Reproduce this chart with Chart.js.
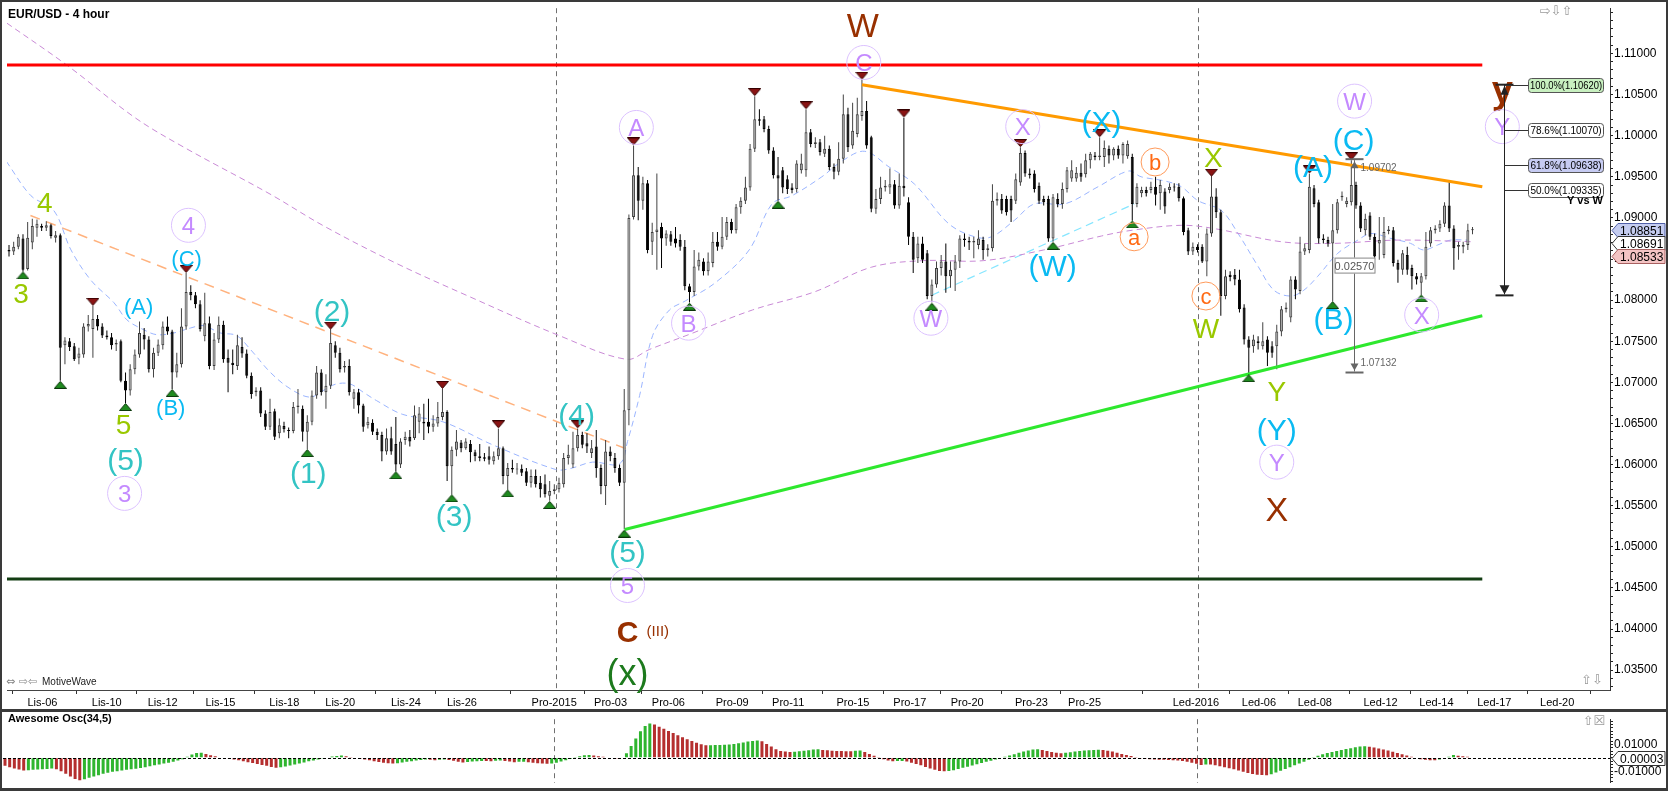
<!DOCTYPE html>
<html><head><meta charset="utf-8">
<script src="https://cdn.jsdelivr.net/npm/chart.js@4.4.0/dist/chart.umd.min.js"></script>
<style>
html,body{margin:0;padding:0;background:#fff;}
#wrap{position:relative;width:1668px;height:791px;overflow:hidden;background:#fff;}
canvas{position:absolute;left:0;}
#main{top:0;}
#osc{top:711px;}
</style></head><body>
<div id="wrap"><canvas id="main" width="1668" height="712"></canvas><canvas id="osc" width="1668" height="80"></canvas></div>
<script>
// ---------- DATA (EUR/USD 4h candles, bar index 0..314) ----------
const opens = [
1.0861,1.0859,1.0865,1.0875,1.0838,1.0870,1.0888,1.0890,1.0888,1.0891,
1.0876,1.0879,1.0745,1.0750,1.0744,1.0730,1.0734,1.0768,1.0765,1.0777,
1.0768,1.0757,1.0755,1.0746,1.0750,1.0702,1.0690,1.0716,1.0734,1.0758,
1.0752,1.0716,1.0736,1.0745,1.0768,1.0762,1.0712,1.0722,1.0768,1.0810,
1.0806,1.0795,1.0756,1.0772,1.0720,1.0752,1.0770,1.0730,1.0724,1.0720,
1.0743,1.0735,1.0708,1.0688,1.0690,1.0662,1.0646,1.0665,1.0638,1.0647,
1.0642,1.0641,1.0670,1.0668,1.0640,1.0652,1.0684,1.0712,1.0688,1.0696,
1.0745,1.0736,1.0718,1.0720,1.0680,1.0688,1.0672,1.0648,1.0651,1.0640,
1.0636,1.0616,1.0632,1.0625,1.0600,1.0630,1.0634,1.0632,1.0652,1.0652,
1.0652,1.0646,1.0650,1.0658,1.0664,1.0598,1.0618,1.0627,1.0620,1.0625,
1.0615,1.0610,1.0609,1.0610,1.0604,1.0610,1.0620,1.0586,1.0596,1.0594,
1.0595,1.0592,1.0578,1.0586,1.0578,1.0576,1.0562,1.0568,1.0570,1.0576,
1.0608,1.0600,1.0620,1.0636,1.0626,1.0614,1.0622,1.0596,1.0574,1.0616,
1.0608,1.0596,1.0578,1.0666,1.0901,1.0952,1.0921,1.0942,1.0871,1.0883,
1.0889,1.0875,1.0880,1.0875,1.0873,1.0865,1.0817,1.0810,1.0841,1.0847,
1.0835,1.0845,1.0871,1.0865,1.0877,1.0895,1.0885,1.0913,1.0921,1.0937,
1.0984,1.1020,1.1020,1.1008,1.0982,1.0952,1.0958,1.0947,1.0937,1.0935,
1.0958,1.0958,1.1004,1.0990,1.0992,1.0978,1.0984,1.0962,1.0956,1.0972,
1.1026,1.0988,1.1002,1.1024,1.1030,1.0998,1.0911,1.0923,1.0937,1.0937,
1.0941,1.0915,1.0939,1.0919,1.0877,1.0851,1.0869,1.0857,1.0805,1.0819,
1.0839,1.0847,1.0829,1.0837,1.0847,1.0875,1.0872,1.0870,1.0867,1.0873,
1.0861,1.0863,1.0921,1.0923,1.0923,1.0923,1.0921,1.0943,1.0979,1.0954,
1.0954,1.0939,1.0923,1.0923,1.0875,1.0923,1.0917,1.0935,1.0948,1.0948,
1.0955,1.0953,1.0970,1.0976,1.0974,1.0974,1.0984,1.0976,1.0984,1.0976,
1.0975,1.0974,1.0917,1.0930,1.0934,1.0934,1.0938,1.0930,1.0932,1.0934,
1.0938,1.0938,1.0924,1.0885,1.0859,1.0865,1.0865,1.0847,1.0881,1.0926,
1.0907,1.0805,1.0831,1.0831,1.0825,1.0791,1.0752,1.0744,1.0750,1.0744,
1.0752,1.0744,1.0744,1.0762,1.0789,1.0779,1.0825,1.0811,1.0859,1.0861,
1.0936,1.0919,1.0875,1.0873,1.0869,1.0885,1.0925,1.0917,1.0919,1.0940,
1.0915,1.0885,1.0903,1.0877,1.0869,1.0855,1.0884,1.0885,1.0845,1.0837,
1.0855,1.0839,1.0829,1.0821,1.0829,1.0869,1.0885,1.0887,1.0893,1.0915,
1.0887,1.0865,1.0865,1.0867,1.0885];
const highs = [
1.0867,1.0871,1.0880,1.0880,1.0895,1.0899,1.0898,1.0893,1.0896,1.0893,
1.0884,1.0881,1.0755,1.0754,1.0748,1.0742,1.0772,1.0782,1.0793,1.0782,
1.0772,1.0763,1.0760,1.0752,1.0752,1.0712,1.0722,1.0740,1.0774,1.0766,
1.0756,1.0742,1.0752,1.0774,1.0780,1.0764,1.0736,1.0790,1.0833,1.0818,
1.0810,1.0800,1.0809,1.0780,1.0760,1.0780,1.0775,1.0740,1.0740,1.0758,
1.0755,1.0740,1.0712,1.0694,1.0694,1.0666,1.0680,1.0668,1.0656,1.0652,
1.0645,1.0676,1.0692,1.0672,1.0660,1.0690,1.0720,1.0716,1.0710,1.0764,
1.0750,1.0742,1.0726,1.0728,1.0692,1.0692,1.0674,1.0658,1.0655,1.0644,
1.0640,1.0644,1.0646,1.0658,1.0632,1.0640,1.0642,1.0672,1.0670,1.0674,
1.0680,1.0660,1.0676,1.0692,1.0666,1.0622,1.0642,1.0630,1.0632,1.0630,
1.0618,1.0625,1.0614,1.0622,1.0616,1.0644,1.0622,1.0602,1.0606,1.0602,
1.0600,1.0596,1.0594,1.0594,1.0586,1.0588,1.0580,1.0576,1.0584,1.0614,
1.0624,1.0640,1.0644,1.0640,1.0638,1.0630,1.0642,1.0600,1.0630,1.0622,
1.0614,1.0600,1.0692,1.0904,1.0988,1.0962,1.0950,1.0946,1.0894,1.0954,
1.0894,1.0885,1.0884,1.0889,1.0880,1.0873,1.0820,1.0861,1.0858,1.0851,
1.0858,1.0883,1.0883,1.0901,1.0901,1.0899,1.0917,1.0925,1.0950,1.0990,
1.1048,1.1032,1.1024,1.1012,1.0986,1.0974,1.0962,1.0952,1.0942,1.0970,
1.0978,1.1032,1.1008,1.0998,1.0996,1.1000,1.0988,1.0966,1.0992,1.1050,
1.1034,1.1040,1.1046,1.1068,1.1042,1.1000,1.0935,1.0950,1.0946,1.0960,
1.0946,1.0954,1.1022,1.0925,1.0883,1.0877,1.0877,1.0861,1.0825,1.0847,
1.0855,1.0869,1.0847,1.0855,1.0879,1.0881,1.0877,1.0877,1.0885,1.0877,
1.0868,1.0941,1.0931,1.0929,1.0927,1.0927,1.0954,1.0986,1.0982,1.0960,
1.0958,1.0943,1.0927,1.0927,1.0929,1.0930,1.0943,1.0962,1.0970,1.0962,
1.0966,1.0978,1.0980,1.0980,1.0998,1.0994,1.0988,1.0986,1.0988,1.0992,
1.0994,1.0978,1.0942,1.0938,1.0938,1.0944,1.0950,1.0946,1.0936,1.0942,
1.0942,1.0942,1.0926,1.0888,1.0870,1.0868,1.0868,1.0887,1.0950,1.0936,
1.0910,1.0837,1.0835,1.0838,1.0837,1.0795,1.0756,1.0758,1.0756,1.0773,
1.0756,1.0750,1.0770,1.0793,1.0797,1.0829,1.0829,1.0877,1.0869,1.0954,
1.0940,1.0922,1.0880,1.0877,1.0917,1.0923,1.0932,1.0925,1.0970,1.0944,
1.0919,1.0905,1.0907,1.0881,1.0901,1.0901,1.0890,1.0889,1.0849,1.0861,
1.0865,1.0843,1.0833,1.0833,1.0883,1.0889,1.0891,1.0897,1.0919,1.0944,
1.0891,1.0871,1.0871,1.0893,1.0889];
const lows = [
1.0853,1.0855,1.0862,1.0835,1.0836,1.0862,1.0877,1.0884,1.0884,1.0875,
1.0870,1.0702,1.0722,1.0738,1.0726,1.0722,1.0730,1.0762,1.0730,1.0763,
1.0754,1.0752,1.0740,1.0738,1.0700,1.0675,1.0684,1.0710,1.0730,1.0740,
1.0712,1.0706,1.0732,1.0740,1.0758,1.0692,1.0706,1.0718,1.0764,1.0800,
1.0790,1.0762,1.0750,1.0716,1.0715,1.0748,1.0724,1.0688,1.0710,1.0715,
1.0730,1.0705,1.0680,1.0683,1.0658,1.0642,1.0642,1.0630,1.0632,1.0639,
1.0632,1.0638,1.0662,1.0628,1.0619,1.0648,1.0680,1.0684,1.0668,1.0692,
1.0730,1.0712,1.0712,1.0684,1.0668,1.0662,1.0640,1.0644,1.0636,1.0630,
1.0604,1.0612,1.0612,1.0592,1.0596,1.0624,1.0622,1.0630,1.0638,1.0630,
1.0638,1.0640,1.0646,1.0654,1.0580,1.0564,1.0610,1.0615,1.0618,1.0603,
1.0604,1.0604,1.0604,1.0600,1.0600,1.0606,1.0576,1.0570,1.0590,1.0588,
1.0586,1.0574,1.0572,1.0572,1.0560,1.0560,1.0556,1.0564,1.0566,1.0572,
1.0600,1.0596,1.0616,1.0620,1.0614,1.0608,1.0584,1.0564,1.0551,1.0604,
1.0590,1.0574,1.0521,1.0648,1.0898,1.0897,1.0910,1.0857,1.0855,1.0837,
1.0839,1.0866,1.0866,1.0864,1.0860,1.0812,1.0797,1.0805,1.0836,1.0830,
1.0830,1.0840,1.0860,1.0862,1.0873,1.0881,1.0881,1.0905,1.0917,1.0933,
1.0980,1.1012,1.1004,1.0978,1.0948,1.0921,1.0930,1.0929,1.0930,1.0931,
1.0954,1.0950,1.0986,1.0985,1.0976,1.0974,1.0958,1.0947,1.0952,1.0966,
1.0980,1.0984,1.0998,1.1018,1.0984,1.0907,1.0905,1.0917,1.0932,1.0929,
1.0911,1.0911,1.0926,1.0867,1.0833,1.0845,1.0845,1.0801,1.0797,1.0815,
1.0830,1.0809,1.0815,1.0811,1.0839,1.0865,1.0861,1.0851,1.0862,1.0849,
1.0853,1.0859,1.0915,1.0905,1.0903,1.0895,1.0917,1.0939,1.0950,1.0948,
1.0931,1.0917,1.0915,1.0871,1.0871,1.0913,1.0911,1.0931,1.0944,1.0944,
1.0944,1.0949,1.0960,1.0970,1.0970,1.0962,1.0966,1.0970,1.0972,1.0966,
1.0972,1.0897,1.0913,1.0925,1.0926,1.0930,1.0915,1.0910,1.0905,1.0930,
1.0932,1.0920,1.0879,1.0855,1.0855,1.0858,1.0845,1.0829,1.0877,1.0900,
1.0781,1.0801,1.0823,1.0818,1.0785,1.0746,1.0710,1.0736,1.0740,1.0740,
1.0720,1.0730,1.0716,1.0756,1.0785,1.0773,1.0801,1.0807,1.0855,1.0857,
1.0913,1.0869,1.0869,1.0865,1.0799,1.0881,1.0921,1.0913,1.0915,1.0911,
1.0883,1.0879,1.0873,1.0849,1.0849,1.0851,1.0880,1.0841,1.0821,1.0831,
1.0831,1.0813,1.0819,1.0807,1.0825,1.0865,1.0881,1.0883,1.0889,1.0883,
1.0837,1.0849,1.0857,1.0861,1.0880];
const closes = [
1.0859,1.0865,1.0877,1.0837,1.0876,1.0890,1.0893,1.0888,1.0891,1.0878,
1.0879,1.0742,1.0751,1.0743,1.0728,1.0735,1.0768,1.0771,1.0777,1.0768,
1.0757,1.0755,1.0745,1.0748,1.0702,1.0690,1.0716,1.0734,1.0760,1.0752,
1.0716,1.0736,1.0746,1.0768,1.0762,1.0712,1.0722,1.0768,1.0810,1.0806,
1.0795,1.0765,1.0772,1.0720,1.0752,1.0770,1.0728,1.0724,1.0721,1.0745,
1.0735,1.0708,1.0686,1.0690,1.0662,1.0646,1.0664,1.0634,1.0648,1.0643,
1.0641,1.0670,1.0672,1.0640,1.0652,1.0684,1.0712,1.0688,1.0696,1.0748,
1.0736,1.0716,1.0720,1.0688,1.0688,1.0672,1.0646,1.0652,1.0640,1.0636,
1.0616,1.0632,1.0616,1.0600,1.0628,1.0634,1.0628,1.0660,1.0662,1.0650,
1.0646,1.0650,1.0658,1.0664,1.0598,1.0618,1.0628,1.0620,1.0628,1.0615,
1.0610,1.0608,1.0607,1.0606,1.0610,1.0620,1.0586,1.0596,1.0594,1.0595,
1.0590,1.0578,1.0586,1.0576,1.0570,1.0564,1.0568,1.0570,1.0578,1.0608,
1.0612,1.0620,1.0636,1.0624,1.0622,1.0620,1.0596,1.0574,1.0616,1.0610,
1.0596,1.0578,1.0666,1.0900,1.0952,1.0921,1.0942,1.0861,1.0883,1.0886,
1.0875,1.0881,1.0871,1.0869,1.0865,1.0817,1.0810,1.0841,1.0849,1.0835,
1.0847,1.0871,1.0865,1.0877,1.0895,1.0885,1.0913,1.0921,1.0937,1.0984,
1.1020,1.1018,1.1008,1.0982,1.0952,1.0948,1.0937,1.0935,1.0934,1.0966,
1.0966,1.1004,1.0990,1.0992,1.0980,1.0984,1.0962,1.0956,1.0972,1.1026,
1.0986,1.1006,1.1026,1.1030,1.0988,1.0911,1.0923,1.0937,1.0939,1.0941,
1.0915,1.0939,1.0936,1.0877,1.0849,1.0869,1.0849,1.0805,1.0819,1.0839,
1.0847,1.0829,1.0837,1.0847,1.0875,1.0873,1.0870,1.0872,1.0875,1.0861,
1.0863,1.0921,1.0923,1.0909,1.0907,1.0909,1.0947,1.0979,1.0954,1.0952,
1.0935,1.0921,1.0919,1.0875,1.0925,1.0917,1.0935,1.0958,1.0958,1.0955,
1.0950,1.0970,1.0978,1.0974,1.0976,1.0985,1.0976,1.0984,1.0976,1.0990,
1.0990,1.0917,1.0938,1.0934,1.0930,1.0938,1.0928,1.0940,1.0914,1.0938,
1.0937,1.0924,1.0883,1.0859,1.0865,1.0861,1.0847,1.0881,1.0926,1.0907,
1.0805,1.0829,1.0828,1.0825,1.0789,1.0752,1.0742,1.0752,1.0748,1.0750,
1.0736,1.0736,1.0762,1.0789,1.0791,1.0825,1.0813,1.0859,1.0863,1.0938,
1.0917,1.0875,1.0873,1.0869,1.0885,1.0919,1.0927,1.0921,1.0940,1.0915,
1.0887,1.0899,1.0877,1.0853,1.0873,1.0883,1.0886,1.0845,1.0837,1.0857,
1.0837,1.0829,1.0825,1.0829,1.0865,1.0885,1.0887,1.0893,1.0915,1.0887,
1.0863,1.0867,1.0867,1.0885,1.0886];

// Awesome Oscillator (34,5), in thousandths of a price unit
const aoMilli = [
-6.0,-7.0,-8.0,-8.8,-9.5,-9.2,-8.9,-8.7,-8.5,-8.3,
-8.0,-8.6,-10.0,-12.0,-14.0,-15.8,-16.8,-16.0,-15.0,-14.0,
-13.0,-12.0,-11.2,-10.5,-10.0,-9.5,-9.0,-8.6,-8.2,-7.6,
-7.0,-6.3,-5.6,-4.9,-4.3,-3.6,-3.0,-2.0,-1.0,0.8,
2.5,3.6,3.9,3.0,2.0,1.2,0.5,0.0,-0.6,-1.2,
-1.8,-2.5,-3.2,-3.9,-4.6,-5.3,-6.0,-6.8,-7.4,-7.0,
-6.5,-5.8,-5.0,-4.2,-3.4,-2.6,-1.9,-1.2,-0.4,0.4,
1.0,1.5,1.8,1.2,0.6,0.0,-0.6,-1.2,-1.8,-2.5,
-3.1,-3.6,-4.0,-4.3,-4.0,-3.5,-3.0,-2.5,-2.0,-1.6,
-1.2,-1.5,-1.8,-1.4,-1.2,-1.6,-2.2,-3.0,-3.4,-3.1,
-2.8,-2.5,-2.3,-2.4,-2.6,-2.2,-2.0,-2.3,-2.8,-3.2,
-3.0,-2.9,-3.3,-3.7,-4.0,-4.3,-4.4,-4.2,-3.6,-2.8,
-1.8,-0.8,0.2,1.2,2.0,2.2,1.8,1.2,0.8,0.4,
0.0,-0.4,-0.2,3.5,9.0,14.5,20.0,24.0,25.8,25.0,
23.4,21.8,20.2,18.6,17.0,15.5,14.0,12.6,11.4,10.3,
9.4,9.5,9.6,9.7,9.9,10.1,10.5,11.0,11.6,12.2,
12.7,13.0,12.4,10.5,8.5,6.5,5.2,4.7,4.4,4.6,
5.0,5.4,5.8,6.2,6.5,6.0,5.7,5.4,5.2,5.1,
5.0,4.9,5.3,5.6,4.5,3.0,1.6,0.2,-1.0,-2.0,
-2.6,-2.4,-2.3,-2.8,-3.6,-4.6,-5.6,-6.8,-8.0,-9.0,
-9.8,-10.1,-9.8,-9.2,-8.4,-7.5,-6.6,-5.7,-4.8,-3.9,
-3.0,-2.2,-1.2,-0.2,0.8,1.8,2.8,3.8,4.8,5.6,
6.2,6.5,6.0,5.2,4.5,3.9,3.5,3.8,4.2,4.7,
5.1,5.5,5.8,6.0,6.1,5.9,5.4,4.7,3.9,3.0,
2.2,1.4,0.6,-0.1,-0.6,-1.0,-1.2,-1.4,-1.5,-1.6,
-1.7,-1.9,-2.3,-2.9,-3.6,-4.4,-5.3,-4.9,-5.0,-5.6,
-6.2,-7.0,-7.8,-8.6,-9.5,-10.4,-11.3,-12.1,-12.7,-12.9,
-13.0,-12.2,-11.0,-9.7,-8.4,-7.0,-5.6,-4.3,-3.0,-1.4,
0.2,1.6,2.8,3.7,4.5,5.2,5.9,6.6,7.3,8.0,
8.5,8.7,8.4,7.8,7.1,6.3,5.5,4.6,3.7,2.8,
1.8,0.8,-0.2,-1.0,-1.4,-1.7,-1.8,-1.2,-0.3,0.8,
2.1,1.6,1.2,0.8,0.5];

// moving averages (anchor readings: bar index, price)
const slowMaIdx = [-0.5,12.6,27,37.5,56,67.6,83,98.5,118,132.5,137.4,145.8,159.5,172.8,185,196,209,222,234.4,241,251.5,258.6,273,284,298,314];
const slowMaVal = [1.1137,1.1085,1.1022,1.0986,1.0929,1.0890,1.0845,1.0805,1.0757,1.0728,1.0740,1.0758,1.0788,1.0810,1.0840,1.0848,1.0848,1.0861,1.0878,1.0885,1.0891,1.0887,1.0871,1.0869,1.0873,1.0871];
const fastMaIdx = [-0.6,4.7,9.6,13.3,17.6,22.5,25.3,28.9,31.7,35.3,38.9,41.7,45.4,48.8,51.8,56.1,60.4,64.6,67.4,70.2,73.2,76.0,78.8,84.5,93.1,103.8,117.3,120.3,125.2,131.0,132.7,135.3,138.1,141.7,145.1,151.5,158.8,163.7,168.0,174.4,178.7,183.6,188.8,194.3,201.6,207.2,210.8,215.7,220.0,226.5,233.7,240.2,242.9,247.9,251.5,255.1,260.1,263.7,268.0,271.4,275.0,277.8,280.8,285.1,289.4,292.2,296.5,300.7,303.5,306.5,309.3,312.9];
const fastMaVal = [1.0969,1.0927,1.0909,1.0861,1.0824,1.0797,1.0776,1.0764,1.0758,1.0760,1.0766,1.0769,1.0760,1.0757,1.0740,1.0712,1.0692,1.0682,1.0690,1.0698,1.0698,1.0688,1.0678,1.0661,1.0652,1.0624,1.0594,1.0595,1.0603,1.0601,1.0628,1.0684,1.0757,1.0788,1.0799,1.0821,1.0861,1.0917,1.0927,1.0950,1.0969,1.0981,1.0962,1.0941,1.0893,1.0877,1.0877,1.0897,1.0917,1.0917,1.0938,1.0957,1.0950,1.0945,1.0938,1.0921,1.0909,1.0881,1.0841,1.0812,1.0805,1.0812,1.0829,1.0857,1.0873,1.0881,1.0875,1.0869,1.0861,1.0867,1.0873,1.0873];

// drawn levels / trend lines (bar index, price)
const resistanceLevel = 1.1086, supportLevel = 1.0461, levelEndIdx = 316.1;
const upperTrendIdx = [183, 316.1], upperTrendVal = [1.1062, 1.0938];
const lowerTrendIdx = [132.1, 316.1], lowerTrendVal = [1.0521, 1.0781];
const oldTrendIdx = [4.6, 133.4], oldTrendVal = [1.0903, 1.0617];
const channelIdx = [198, 241.4], channelVal = [1.0806, 1.0917];

// swing markers (bar indices)
const lowPivots = [3,11,25,35,64,83,95,107,116,132,146,165,198,224,241,266,284,303];
const highPivots = [18,38,69,93,105,122,134,160,171,183,192,217,234,258,279,288];

// axis ticks
const dateTickIndex = [7.6,21.4,33.4,45.8,59.5,71.5,85.6,97.6,117.4,129.5,141.9,155.6,167.6,181.5,193.7,206.0,219.8,231.2,255.1,268.6,280.6,294.7,306.7,319.1,332.6];
const dateTickLabels = ['Lis-06','Lis-10','Lis-12','Lis-15','Lis-18','Lis-20','Lis-24','Lis-26','Pro-2015','Pro-03','Pro-06','Pro-09','Pro-11','Pro-15','Pro-17','Pro-20','Pro-23','Pro-25','Led-2016','Led-06','Led-08','Led-12','Led-14','Led-17','Led-20'];
const sessionBreakLabels = ['Pro-2015','Led-2016'];
const priceTickValues = [1.035,1.040,1.045,1.050,1.055,1.060,1.065,1.070,1.075,1.080,1.085,1.090,1.095,1.100,1.105,1.110];
const aoTickValues = [-0.01, 0.01];

// Elliott wave labels
const waveText  = ['4','3','5','(5)','3','(A)','4','(C)','(B)','(2)','(1)','(3)','(4)','(5)','5','C','(III)','(x)','A','B','W','C','W','X','(W)','(X)','b','a','X','c','W','(A)','W','(C)','(B)','X','y','Y','Y','(Y)','Y','X'];
const waveIdx   = [7.7,2.6,24.6,25.0,24.8,27.8,38.5,38.1,34.7,69.3,64.2,95.5,121.8,132.7,132.7,132.7,139.2,132.7,134.6,145.8,183.2,183.4,197.8,217.5,223.9,234.4,245.9,241.4,258.4,256.8,256.8,279.8,288.7,288.5,284.2,303.1,320.4,320.4,272.0,272.0,272.0,272.0];
const wavePrice = [1.0920,1.0809,1.0649,1.0607,1.0565,1.0793,1.0891,1.0851,1.0670,1.0788,1.0591,1.0539,1.0661,1.0495,1.0453,1.0398,1.0398,1.0348,1.1010,1.0772,1.1135,1.1089,1.0778,1.1011,1.0842,1.1017,1.0968,1.0877,1.0974,1.0805,1.0766,1.0963,1.1042,1.0996,1.0778,1.0782,1.1056,1.1011,1.0689,1.0643,1.0603,1.0546];
const waveKind  = ['m','m','m','t','c','bs','c','bs','bs','t','t','t','t','t','c','pb','r','g','c','c','p','c','c','c','b','b','o','o','m','o','m','b','c','b','b','c','py','c','m','b','c','p'];

// tools
const fibIdx = 320.8, fibEnd = 1.0807;
const fibPct = ['100.0','78.6','61.8','50.0'];
const fibPrice = [1.10620,1.10070,1.09638,1.09335];
const measureIdx = 288.5, measureTop = 1.09702, measureBottom = 1.07132, measureMid = 1.0842;
const lastPrices = [1.08851,1.08691,1.08533];

// ---------- RENDER ----------
const FONT = "'Liberation Sans', Arial, sans-serif";
Chart.defaults.font.family = FONT;
Chart.defaults.color = '#000';
const xMin = -0.43, xMax = 343.5;
const N = opens.length;

function flatTriangle(up, fill, stroke) {
  const c = document.createElement('canvas'); c.width = 13; c.height = 8;
  const g = c.getContext('2d');
  g.beginPath();
  if (up) { g.moveTo(0.5,7.5); g.lineTo(6.5,0.5); g.lineTo(12.5,7.5); }
  else { g.moveTo(0.5,0.5); g.lineTo(12.5,0.5); g.lineTo(6.5,7.5); }
  g.closePath(); g.fillStyle = fill; g.fill(); g.strokeStyle = stroke; g.lineWidth = 1; g.stroke();
  return c;
}
const triUp = flatTriangle(true, '#1f8a1f', '#0a350a');
const triDown = flatTriangle(false, '#8a1414', '#350000');

const isUp = opens.map((o,i) => closes[i] >= o);
const wickData = opens.map((o,i) => ({x:i, y:[lows[i], highs[i]]}));
const bodyData = opens.map((o,i) => ({x:i, y:[o, closes[i]]}));
const pts = (xs, ys) => xs.map((v,k) => ({x:v, y:ys[k]}));
const sessionBreaks = sessionBreakLabels.map(l => dateTickIndex[dateTickLabels.indexOf(l)]);

const waveStyles = {
  m:{color:'#99c800', size:28},
  t:{color:'#33c4c4', size:30},
  b:{color:'#0abaf2', size:30},
  bs:{color:'#0abaf2', size:22},
  c:{color:'#c48aff', size:24, ring:17, ringColor:'#dcc2ff'},
  p:{color:'#983000', size:34},
  pb:{color:'#983000', size:30, bold:true},
  py:{color:'#983000', size:38, bold:true},
  o:{color:'#ff6a14', size:22, ring:14, ringColor:'#ff9a5a'},
  g:{color:'#1d7a1d', size:36},
  r:{color:'#983000', size:15}
};

function rrect(ctx, x, y, w, h, r) {
  ctx.beginPath();
  ctx.moveTo(x+r, y); ctx.lineTo(x+w-r, y); ctx.quadraticCurveTo(x+w, y, x+w, y+r);
  ctx.lineTo(x+w, y+h-r); ctx.quadraticCurveTo(x+w, y+h, x+w-r, y+h);
  ctx.lineTo(x+r, y+h); ctx.quadraticCurveTo(x, y+h, x, y+h-r);
  ctx.lineTo(x, y+r); ctx.quadraticCurveTo(x, y, x+r, y); ctx.closePath();
}
function tag(ctx, xL, yc, w, h, text, bg, border) {
  ctx.beginPath();
  ctx.moveTo(xL, yc); ctx.lineTo(xL+6, yc-h/2); ctx.lineTo(xL+w, yc-h/2);
  ctx.lineTo(xL+w, yc+h/2); ctx.lineTo(xL+6, yc+h/2); ctx.closePath();
  ctx.fillStyle = bg; ctx.fill(); ctx.lineWidth = 1; ctx.strokeStyle = border; ctx.stroke();
  ctx.fillStyle = '#000'; ctx.font = '12px ' + FONT; ctx.textAlign = 'left'; ctx.textBaseline = 'middle';
  ctx.fillText(text, xL+8, yc+1);
}
function hline(ctx, x1, x2, y) { ctx.beginPath(); ctx.moveTo(x1, y); ctx.lineTo(x2, y); ctx.stroke(); }
function vline(ctx, x, y1, y2) { ctx.beginPath(); ctx.moveTo(x, y1); ctx.lineTo(x, y2); ctx.stroke(); }

const mainPlugin = {
  id: 'mainOverlay',
  beforeDatasetsDraw(chart) {
    const {ctx, chartArea:a, scales:{x}} = chart;
    ctx.save(); ctx.strokeStyle = '#707070'; ctx.lineWidth = 1; ctx.setLineDash([5,4]);
    sessionBreaks.forEach(v => vline(ctx, Math.round(x.getPixelForValue(v)) + 0.5, a.top, a.bottom));
    ctx.restore();
  },
  afterDraw(chart) {
    const {ctx, chartArea:a, scales:{x, y}} = chart;
    ctx.save();
    // title
    ctx.fillStyle = '#000'; ctx.font = 'bold 12px ' + FONT; ctx.textAlign = 'left'; ctx.textBaseline = 'alphabetic';
    ctx.fillText('EUR/USD - 4 hour', 8, 18);
    // wave labels
    for (let k = 0; k < waveText.length; k++) {
      const st = waveStyles[waveKind[k]];
      const px = x.getPixelForValue(waveIdx[k]), py = y.getPixelForValue(wavePrice[k]);
      if (st.ring) { ctx.beginPath(); ctx.arc(px, py, st.ring, 0, Math.PI*2); ctx.strokeStyle = st.ringColor; ctx.lineWidth = 1; ctx.stroke(); }
      ctx.font = (st.bold ? 'bold ' : '') + st.size + 'px ' + FONT;
      ctx.fillStyle = st.color; ctx.textAlign = 'center'; ctx.textBaseline = 'alphabetic';
      ctx.fillText(waveText[k], px, py + st.size*0.36);
    }
    // measurement tool
    const mx = Math.round(x.getPixelForValue(measureIdx)) + 0.5;
    const mt = y.getPixelForValue(measureTop), mb = y.getPixelForValue(measureBottom);
    ctx.strokeStyle = '#666'; ctx.fillStyle = '#666'; ctx.lineWidth = 1;
    vline(ctx, mx, mt, mb);
    ctx.lineWidth = 2; hline(ctx, mx-9, mx+9, mt-1); hline(ctx, mx-9, mx+9, mb+1); ctx.lineWidth = 1;
    ctx.beginPath(); ctx.moveTo(mx, mt+1); ctx.lineTo(mx-4, mt+8); ctx.lineTo(mx+4, mt+8); ctx.closePath(); ctx.fill();
    ctx.beginPath(); ctx.moveTo(mx, mb-1); ctx.lineTo(mx-4, mb-8); ctx.lineTo(mx+4, mb-8); ctx.closePath(); ctx.fill();
    ctx.font = '10px ' + FONT; ctx.textAlign = 'left'; ctx.textBaseline = 'middle';
    ctx.fillText(measureTop.toFixed(5), mx+6, mt+8);
    ctx.fillText(measureBottom.toFixed(5), mx+6, mb-8);
    const my = y.getPixelForValue(measureMid);
    ctx.fillStyle = '#fff'; ctx.fillRect(mx-20, my-8, 41, 16); ctx.strokeStyle = '#888'; ctx.strokeRect(mx-19.5, my-7.5, 40, 15);
    ctx.fillStyle = '#555'; ctx.font = '11px ' + FONT; ctx.textAlign = 'center';
    ctx.fillText((measureTop - measureBottom).toFixed(5), mx, my+1);
    // fib tool
    const fx = Math.round(x.getPixelForValue(fibIdx)) + 0.5;
    const ft = y.getPixelForValue(fibPrice[0]), fb = y.getPixelForValue(fibEnd);
    ctx.strokeStyle = '#222'; ctx.fillStyle = '#222'; ctx.lineWidth = 1;
    vline(ctx, fx, ft, fb);
    ctx.lineWidth = 2; hline(ctx, fx-9, fx+9, fb+1); hline(ctx, fx-9, fx+9, ft); ctx.lineWidth = 1;
    ctx.beginPath(); ctx.moveTo(fx, ft+1); ctx.lineTo(fx-4, ft+10); ctx.lineTo(fx+4, ft+10); ctx.closePath(); ctx.fill();
    ctx.beginPath(); ctx.moveTo(fx, fb); ctx.lineTo(fx-5, fb-9); ctx.lineTo(fx+5, fb-9); ctx.closePath(); ctx.fill();
    const fibBg = ['#c8f0c0','#ffffff','#c6cbf2','#ffffff'];
    for (let k = 0; k < fibPrice.length; k++) {
      const ly = Math.round(y.getPixelForValue(fibPrice[k])) + 0.5;
      ctx.strokeStyle = '#333'; hline(ctx, fx, 1528, ly);
      rrect(ctx, 1528.5, ly-7, 75, 14, 3); ctx.fillStyle = fibBg[k]; ctx.fill(); ctx.strokeStyle = '#555'; ctx.stroke();
      ctx.fillStyle = '#000'; ctx.font = '10px ' + FONT; ctx.textAlign = 'center'; ctx.textBaseline = 'middle';
      ctx.fillText(fibPct[k] + '%(' + fibPrice[k].toFixed(5) + ')', 1566, ly+0.5, 72);
    }
    ctx.fillStyle = '#000'; ctx.font = 'bold 11px ' + FONT; ctx.textAlign = 'right';
    ctx.fillText('Y vs W', 1603, 201);
    // last price tags
    const tagBg = ['#c4ccf0','#ffffff','#f3c4c4'], tagBd = ['#5060a8','#333','#a86060'];
    lastPrices.forEach((p,k) => tag(ctx, 1612, Math.round(y.getPixelForValue(p)) + 0.5, 53, 14, p.toFixed(5), tagBg[k], tagBd[k]));
    // icons and brand
    ctx.fillStyle = '#9a9a9a'; ctx.font = '13px DejaVu Sans'; ctx.textAlign = 'center'; ctx.textBaseline = 'middle';
    ctx.fillText('\u21E8\u21E9\u21E7', 1556, 12);
    ctx.fillText('\u21E7\u21E9', 1592, 681);
    ctx.fillStyle = '#888'; ctx.font = '11px DejaVu Sans'; ctx.textAlign = 'left';
    ctx.fillText('\u21D4 \u21E8\u21E6', 6, 682);
    ctx.fillStyle = '#222'; ctx.font = '10px ' + FONT; ctx.fillText('MotiveWave', 42, 682);
    // frame
    ctx.fillStyle = '#3a3a3a';
    ctx.fillRect(0, 0, 1668, 2); ctx.fillRect(0, 0, 2, 712); ctx.fillRect(1666, 0, 2, 712); ctx.fillRect(0, 709, 1668, 3);
    ctx.restore();
  }
};

new Chart(document.getElementById('main'), {
  type: 'bar',
  data: { datasets: [
    { type:'line', data: pts(upperTrendIdx, upperTrendVal), borderColor:'#ff9a00', borderWidth:3, pointRadius:0, order:1 },
    { type:'line', data: pts(lowerTrendIdx, lowerTrendVal), borderColor:'#2ee82e', borderWidth:3, pointRadius:0, order:1 },
    { type:'line', data: pts([xMin, levelEndIdx], [resistanceLevel, resistanceLevel]), borderColor:'#ff0000', borderWidth:3, pointRadius:0, order:1 },
    { type:'line', data: pts([xMin, levelEndIdx], [supportLevel, supportLevel]), borderColor:'#133d13', borderWidth:3, pointRadius:0, order:1 },
    { type:'line', data: lowPivots.map(i => ({x:i, y:lows[i] - 0.0005})), showLine:false, pointStyle:triUp, pointRadius:6, order:0 },
    { type:'line', data: highPivots.map(i => ({x:i, y:highs[i] + 0.0005})), showLine:false, pointStyle:triDown, pointRadius:6, order:0 },
    { data: bodyData, backgroundColor: isUp.map(u => u ? '#b0b0b0' : '#000'), borderColor: isUp.map(u => u ? '#3c3c3c' : '#000'),
      borderWidth:1, borderSkipped:false, barThickness:3, minBarLength:1, grouped:false, inflateAmount:0, order:2 },
    { data: wickData, backgroundColor: isUp.map(u => u ? '#444' : '#000'), borderWidth:0, barThickness:1, grouped:false, inflateAmount:0, order:3 },
    { type:'line', data: pts(slowMaIdx, slowMaVal), borderColor:'#c98ad6', borderWidth:1, borderDash:[6,4], pointRadius:0, tension:0.35, order:4 },
    { type:'line', data: pts(fastMaIdx, fastMaVal), borderColor:'#9bb5ff', borderWidth:1, borderDash:[6,4], pointRadius:0, tension:0.35, order:4 },
    { type:'line', data: pts(oldTrendIdx, oldTrendVal), borderColor:'#ffb27e', borderWidth:1.5, borderDash:[10,7], pointRadius:0, order:4 },
    { type:'line', data: pts(channelIdx, channelVal), borderColor:'#86e6ff', borderWidth:1.2, borderDash:[8,5], pointRadius:0, order:4 }
  ]},
  options: {
    responsive:false, animation:false, devicePixelRatio:1,
    layout:{ padding:{ left:3, top:3, right:0, bottom:0 } },
    plugins:{ legend:{display:false}, tooltip:{enabled:false} },
    scales:{
      x:{ type:'linear', min:xMin, max:xMax, offset:false, position:'bottom',
          afterBuildTicks(s){ s.ticks = dateTickIndex.map(v => ({value:v})); },
          afterFit(s){ s.height = 22; },
          ticks:{ autoSkip:false, maxRotation:0, padding:2, labelOffset:-2, font:{size:11},
                  callback:(v, i) => dateTickLabels[i] },
          grid:{ drawOnChartArea:false, tickLength:4, color:'#333' },
          border:{ color:'#444' } },
      y:{ type:'linear', position:'right', min:1.03259, max:1.1155,
          afterBuildTicks(s){ const t = []; for (let k = 1033; k <= 1115; k++) t.push({value:k/1000}); s.ticks = t; },
          afterFit(s){ s.width = 58; },
          ticks:{ autoSkip:false, padding:1, font:{size:12},
                  callback:(v) => { const j = priceTickValues.findIndex(p => Math.abs(p - v) < 1e-7); return j >= 0 ? priceTickValues[j].toFixed(5) : ''; } },
          grid:{ drawOnChartArea:false, tickLength:3, color:'#222' },
          border:{ color:'#333' } }
    }
  },
  plugins:[mainPlugin]
});

// ---------- oscillator ----------
const aoValues = aoMilli.map(v => v/1000);
const aoColors = aoValues.map((v,i) => (i > 0 && v > aoValues[i-1]) ? '#2fb52f' : '#b52f2f');
const oscPlugin = {
  id: 'oscOverlay',
  beforeDatasetsDraw(chart) {
    const {ctx, chartArea:a, scales:{x}} = chart;
    ctx.save(); ctx.strokeStyle = '#707070'; ctx.lineWidth = 1; ctx.setLineDash([5,4]);
    sessionBreaks.forEach(v => vline(ctx, Math.round(x.getPixelForValue(v)) + 0.5, a.top, a.bottom));
    ctx.restore();
  },
  afterDraw(chart) {
    const {ctx, chartArea:a, scales:{y}} = chart;
    ctx.save();
    const zy = Math.round(y.getPixelForValue(0)) + 0.5;
    ctx.strokeStyle = '#000'; ctx.lineWidth = 1; ctx.setLineDash([3,2]); hline(ctx, a.left, a.right, zy); ctx.setLineDash([]);
    tag(ctx, 1612, zy, 53, 14, (aoValues[N-1] * 0 + 0.00003).toFixed(5), '#fff', '#333');
    ctx.fillStyle = '#000'; ctx.font = 'bold 11px ' + FONT; ctx.textAlign = 'left'; ctx.textBaseline = 'middle';
    ctx.fillText('Awesome Osc(34,5)', 8, 8);
    ctx.fillStyle = '#9a9a9a'; ctx.font = '13px DejaVu Sans'; ctx.textAlign = 'center';
    ctx.fillText('\u21E7\u2612', 1594, 11);
    ctx.fillStyle = '#3a3a3a';
    ctx.fillRect(0, 0, 2, 80); ctx.fillRect(1666, 0, 2, 80); ctx.fillRect(0, 77, 1668, 3);
    ctx.restore();
  }
};
new Chart(document.getElementById('osc'), {
  type: 'bar',
  data: { datasets: [{ data: aoValues.map((v,i) => ({x:i, y:v})), backgroundColor: aoColors, borderWidth:0, barThickness:3, grouped:false, inflateAmount:0 }] },
  options: {
    responsive:false, animation:false, devicePixelRatio:1,
    layout:{ padding:{ left:3, top:2, right:0, bottom:4 } },
    plugins:{ legend:{display:false}, tooltip:{enabled:false} },
    scales:{
      x:{ type:'linear', min:xMin, max:xMax, offset:false, display:false },
      y:{ type:'linear', position:'right', min:-0.01871, max:0.02903,
          afterBuildTicks(s){ const t = []; for (let k = -7; k <= 11; k++) t.push({value:k*0.0025}); s.ticks = t; },
          afterFit(s){ s.width = 58; },
          ticks:{ autoSkip:false, padding:1, font:{size:12},
                  callback:(v) => { const j = aoTickValues.findIndex(p => Math.abs(p - v) < 1e-9); return j >= 0 ? aoTickValues[j].toFixed(5) : ''; } },
          grid:{ drawOnChartArea:false, tickLength:3, color:'#222' },
          border:{ color:'#333' } }
    }
  },
  plugins:[oscPlugin]
});
</script>
</body></html>
